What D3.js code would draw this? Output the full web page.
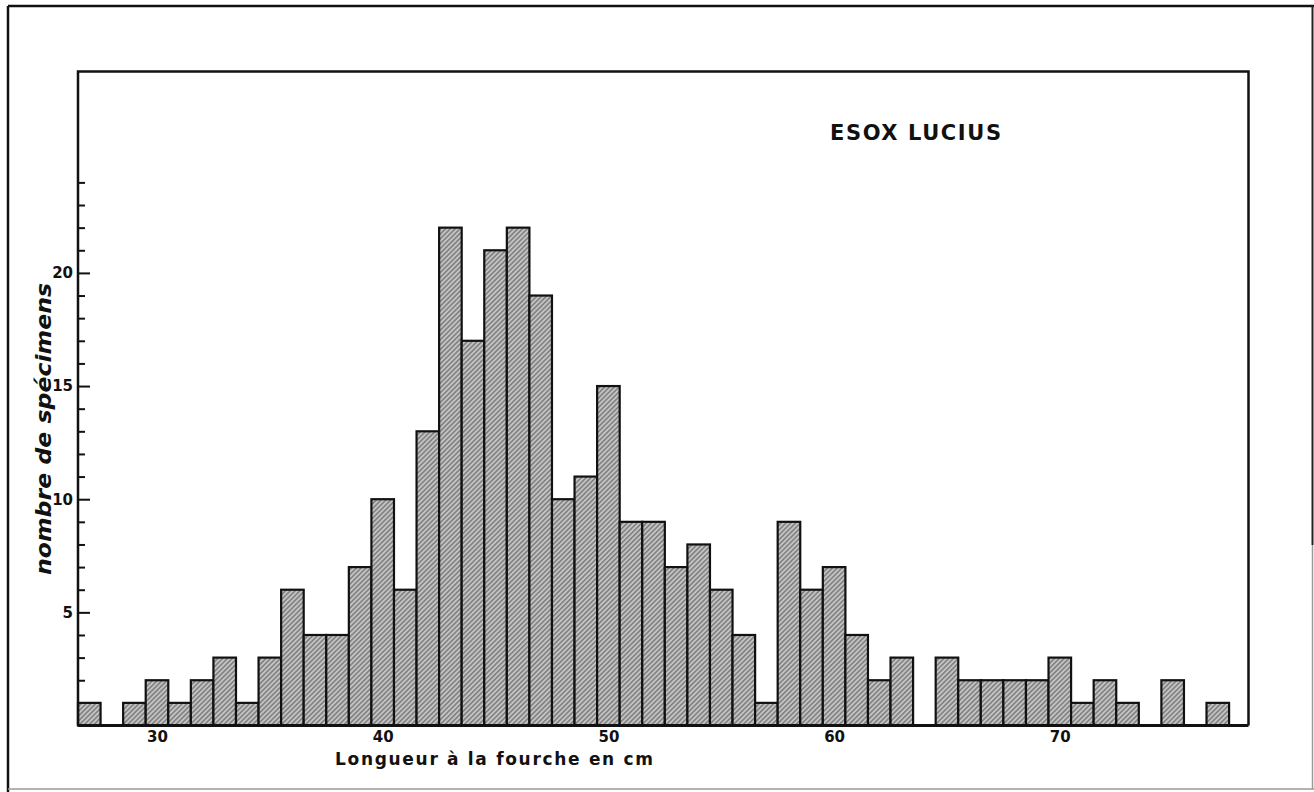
<!DOCTYPE html>
<html>
<head>
<meta charset="utf-8">
<script src="https://cdn.jsdelivr.net/npm/d3@7"></script>
<style>
  html, body { margin: 0; padding: 0; background: #ffffff; }
  svg { display: block; }
</style>
</head>
<body>
<svg id="chart" width="1314" height="792"></svg>
<script>
// ---- data ----
const lengthsCm = [27,28,29,30,31,32,33,34,35,36,37,38,39,40,41,42,43,44,45,46,47,48,49,50,51,52,
                   53,54,55,56,57,58,59,60,61,62,63,64,65,66,67,68,69,70,71,72,73,74,75,76,77];
const specimenCounts = [1,0,1,2,1,2,3,1,3,6,4,4,7,10,6,13,22,17,21,22,19,10,11,15,9,9,
                        7,8,6,4,1,9,6,7,4,2,3,0,3,2,2,2,2,3,1,2,1,0,2,0,1];
const xTickValues = [30,40,50,60,70];
const yTickValues = d3.range(1, 25);
const yLabelValues = [5,10,15,20];
const titleText = "ESOX LUCIUS";
const xTitle = "Longueur à la fourche en cm";
const yTitle = "nombre de spécimens";

(function () {
const bins = lengthsCm.map((L, i) => ({ len: L, n: specimenCounts[i] })).filter(d => d.n > 0);

// ---- layout ----
const svg = d3.select("#chart");
const pL = 78, pR = 1248.5, pT = 71.5, pB = 725.5;

const x = d3.scaleLinear().domain([26.5, 78.36]).range([pL, pR]);
const y = d3.scaleLinear().domain([0, 28.9]).range([pB, pT]);

// hatch pattern
const defs = svg.append("defs");
const pat = defs.append("pattern")
  .attr("id", "hatch")
  .attr("patternUnits", "userSpaceOnUse")
  .attr("width", 3.4).attr("height", 3.4)
  .attr("patternTransform", "rotate(45)");
pat.append("rect").attr("width", 3.4).attr("height", 3.4).attr("fill", "#c4c4c4");
pat.append("line").attr("x1", 0.8).attr("y1", 0).attr("x2", 0.8).attr("y2", 3.4)
  .attr("stroke", "#767676").attr("stroke-width", 1.4);

// outer border of the plate
svg.append("line").attr("x1", 8).attr("y1", 6).attr("x2", 1314).attr("y2", 6)
  .attr("stroke", "#111").attr("stroke-width", 2.5);
svg.append("line").attr("x1", 8).attr("y1", 6).attr("x2", 8).attr("y2", 792)
  .attr("stroke", "#111").attr("stroke-width", 2.5);
svg.append("line").attr("x1", 1312.5).attr("y1", 6).attr("x2", 1312.5).attr("y2", 545)
  .attr("stroke", "#222").attr("stroke-width", 2);
svg.append("line").attr("x1", 1312.5).attr("y1", 545).attr("x2", 1312.5).attr("y2", 789)
  .attr("stroke", "#9a9a9a").attr("stroke-width", 1.5);
svg.append("line").attr("x1", 8).attr("y1", 789).attr("x2", 1314).attr("y2", 789)
  .attr("stroke", "#9a9a9a").attr("stroke-width", 1.5);

// y ticks (inside the frame)
const yTicksAxis = d3.axisRight(y).tickValues(yTickValues)
  .tickSize(6).tickFormat("");
const gy = svg.append("g").attr("transform", `translate(${pL},0)`).call(yTicksAxis);
gy.select(".domain").remove();
gy.selectAll(".tick line")
  .attr("stroke", "#111").attr("stroke-width", 2)
  .attr("x2", d => (d % 5 === 0 ? 12 : 7));

// y labels
const yLabAxis = d3.axisLeft(y).tickValues(yLabelValues).tickSize(0).tickPadding(5);
const gyl = svg.append("g").attr("transform", `translate(${pL},0)`).call(yLabAxis);
gyl.select(".domain").remove();
gyl.selectAll(".tick text")
  .style("font-family", "DejaVu Sans, sans-serif")
  .style("font-weight", "bold").style("font-size", "15px").attr("fill", "#111");

// bars
svg.append("g").selectAll("rect").data(bins).join("rect")
  .attr("x", d => x(d.len - 0.5))
  .attr("y", d => y(d.n))
  .attr("width", d => x(d.len + 0.5) - x(d.len - 0.5))
  .attr("height", d => y(0) - y(d.n))
  .attr("fill", "url(#hatch)")
  .attr("stroke", "#111").attr("stroke-width", 2.2);

// frame (left, top, right)
svg.append("path")
  .attr("d", `M${pL},${pB} L${pL},${pT} L${pR},${pT} L${pR},${pB}`)
  .attr("fill", "none").attr("stroke", "#111").attr("stroke-width", 2.5);

// x axis
const xAxis = d3.axisBottom(x).tickValues(xTickValues).tickSize(0).tickPadding(6);
const gx = svg.append("g").attr("transform", `translate(0,${pB})`).call(xAxis);
gx.select(".domain").attr("stroke", "#111").attr("stroke-width", 3)
  .attr("d", `M${pL},0 H${pR}`);
gx.selectAll(".tick text")
  .style("font-family", "DejaVu Sans, sans-serif")
  .style("font-weight", "bold").style("font-size", "15px").attr("fill", "#111");

// title
svg.append("text")
  .attr("x", 830).attr("y", 140)
  .style("font-family", "DejaVu Sans, sans-serif")
  .style("font-weight", "bold").style("font-size", "21px")
  .attr("textLength", 171).attr("lengthAdjust", "spacing")
  .attr("fill", "#111")
  .text(titleText);

// x title
svg.append("text")
  .attr("x", 335).attr("y", 765)
  .style("font-family", "DejaVu Sans, sans-serif")
  .style("font-weight", "bold").style("font-size", "17px")
  .attr("textLength", 318).attr("lengthAdjust", "spacing")
  .attr("fill", "#111")
  .text(xTitle);

// y title
svg.append("text")
  .attr("transform", "translate(51,575) rotate(-90)")
  .attr("x", 0).attr("y", 0)
  .style("font-family", "DejaVu Sans, sans-serif")
  .style("font-weight", "bold").style("font-style", "italic").style("font-size", "22px")
  .attr("textLength", 292).attr("lengthAdjust", "spacingAndGlyphs")
  .attr("fill", "#111")
  .text(yTitle);
})();
</script>
</body>
</html>
